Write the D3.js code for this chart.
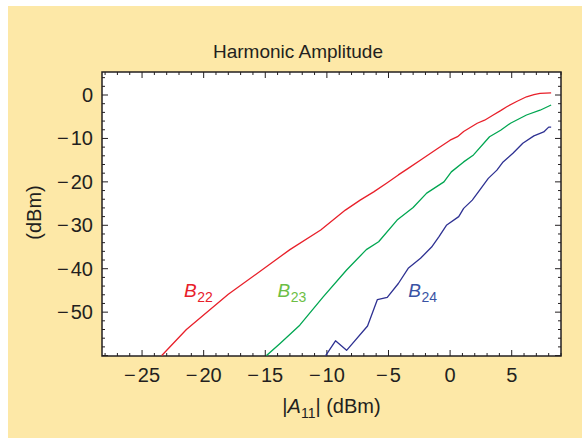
<!DOCTYPE html>
<html><head><meta charset="utf-8">
<script src="https://cdn.jsdelivr.net/npm/d3@7"></script>
<style>html,body{margin:0;padding:0;background:#fff;}svg{display:block;}</style>
</head><body>
<script>
const redX = [-23.4,-21.4,-18,-13,-10.5,-8.5,-7.3,-6.2,-5.1,-4.2,-3.4,-2.3,-1.1,0,0.6,1.1,2.2,2.8,3.5,4.1,4.6,5.4,6.2,6.8,7.3,8.2];
const redY = [-60,-54,-45.9,-35.6,-31.1,-26.5,-24.2,-22.3,-20.2,-18.4,-16.9,-14.8,-12.5,-10.4,-9.6,-8.4,-6.5,-5.8,-4.6,-3.6,-2.7,-1.5,-0.4,0.1,0.4,0.5];
const greenX = [-14.9,-13.8,-12.2,-10.3,-8.4,-6.8,-5.8,-4.3,-3.0,-1.9,-0.5,0.1,1.1,1.9,3.2,4.1,4.9,6.2,7.3,8.2];
const greenY = [-60,-57.2,-53,-46.5,-40.3,-35.6,-33.8,-28.8,-25.9,-22.6,-20,-17.7,-15.4,-13.8,-9.6,-8.1,-6.5,-4.6,-3.5,-2.3];
const blueX = [-10.1,-9.3,-8.4,-6.7,-5.9,-5.1,-4.2,-3.4,-2.4,-1.5,-0.9,-0.3,0.7,1.1,1.8,2.4,3.1,3.8,4.3,5.1,5.9,6.8,7.6,8.0,8.2];
const blueY = [-60,-56.6,-58.8,-53.2,-47.1,-46.6,-43.4,-39.9,-37.6,-35,-32.6,-30,-28,-26.1,-24.2,-21.9,-19.2,-17.3,-15.4,-13.4,-11.1,-9.4,-8.5,-7.4,-7.4];
const xTicks = [-25,-20,-15,-10,-5,0,5];
const yTicks = [0,-10,-20,-30,-40,-50];
const seriesNames = ["22","23","24"];
const lineColors = ["#e8202a","#00a651","#2e3192"];
const labelColors = ["#e8202a","#6cbe45","#3953a4"];
const labelPos = [[-21.6,-46.4],[-14.0,-46.4],[-3.4,-46.4]];

const W=582,H=438;
const L=102,R=561,T=72,B=356;
const svg=d3.select("body").append("svg").attr("width",W).attr("height",H);
svg.append("rect").attr("x",8).attr("y",6).attr("width",W-8).attr("height",H-6).attr("fill","#fde8a7");
const x=d3.scaleLinear().domain([-28.25,9]).range([L,R]);
const y=d3.scaleLinear().domain([-60.1,5.3]).range([B,T]);
svg.append("rect").attr("x",L).attr("y",T).attr("width",R-L).attr("height",B-T).attr("fill","#fff");
svg.append("defs").append("clipPath").attr("id","c").append("rect").attr("x",L).attr("y",T).attr("width",R-L).attr("height",B-T);

const font="'Liberation Sans', Arial, sans-serif";
const tc="#231f20";
const g=svg.append("g").attr("stroke",tc).attr("stroke-width",1);
d3.range(-28,10,1).forEach(v=>{
  const len = v%5===0?6:3;
  const px=x(v);
  g.append("line").attr("x1",px).attr("x2",px).attr("y1",B).attr("y2",B-len);
  g.append("line").attr("x1",px).attr("x2",px).attr("y1",T).attr("y2",T+len);
});
d3.range(-60,6,2).forEach(v=>{
  const len = v%10===0?6:3;
  const py=y(v);
  g.append("line").attr("x1",L).attr("x2",L+len).attr("y1",py).attr("y2",py);
  g.append("line").attr("x1",R).attr("x2",R-len).attr("y1",py).attr("y2",py);
});
svg.append("rect").attr("x",L).attr("y",T).attr("width",R-L).attr("height",B-T).attr("fill","none").attr("stroke",tc).attr("stroke-width",1.5);

function tickText(sel,v){
  if(v<0){
    sel.append("tspan").text("\u2212");
    sel.append("tspan").attr("dx",2).text(String(Math.abs(v)));
  } else sel.text(String(v));
}
xTicks.forEach(v=>{
  const t=svg.append("text").attr("x",x(v)).attr("y",381.5).attr("text-anchor","middle").attr("font-family",font).attr("font-size",20).attr("fill",tc);
  tickText(t,v);
});
yTicks.forEach(v=>{
  const t=svg.append("text").attr("x",93).attr("y",y(v)+7).attr("text-anchor","end").attr("font-family",font).attr("font-size",20).attr("fill",tc);
  tickText(t,v);
});
svg.append("text").attr("x",298).attr("y",58).attr("text-anchor","middle").attr("font-family",font).attr("font-size",19).attr("fill",tc).text("Harmonic Amplitude");
svg.append("text").attr("transform","translate(41,212.5) rotate(-90)").attr("text-anchor","middle").attr("font-family",font).attr("font-size",20).attr("fill",tc).text("(dBm)");
const xt=svg.append("text").attr("x",331.5).attr("y",413).attr("text-anchor","middle").attr("font-family",font).attr("font-size",20).attr("fill",tc);
xt.append("tspan").text("|");
xt.append("tspan").attr("font-style","italic").text("A");
xt.append("tspan").attr("font-size",14).attr("dy",5).text("11");
xt.append("tspan").attr("dy",-5).text("| (dBm)");

const lineGen=d3.line().x(d=>x(d[0])).y(d=>y(d[1]));
const xs=[redX,greenX,blueX], ys=[redY,greenY,blueY];
const plot=svg.append("g").attr("clip-path","url(#c)");
xs.forEach((xa,i)=>{
  const data=xa.map((v,j)=>[v,ys[i][j]]);
  plot.append("path").datum(data).attr("d",lineGen).attr("fill","none").attr("stroke",lineColors[i]).attr("stroke-width",1.3).attr("stroke-linejoin","round");
});
seriesNames.forEach((n,i)=>{
  const t=svg.append("text").attr("x",x(labelPos[i][0])).attr("y",y(labelPos[i][1])).attr("font-family",font).attr("font-size",19).attr("fill",labelColors[i]);
  t.append("tspan").attr("font-style","italic").text("B");
  t.append("tspan").attr("font-size",14).attr("dy",5).attr("dx",0.5).text(n);
});
</script>
</body></html>
